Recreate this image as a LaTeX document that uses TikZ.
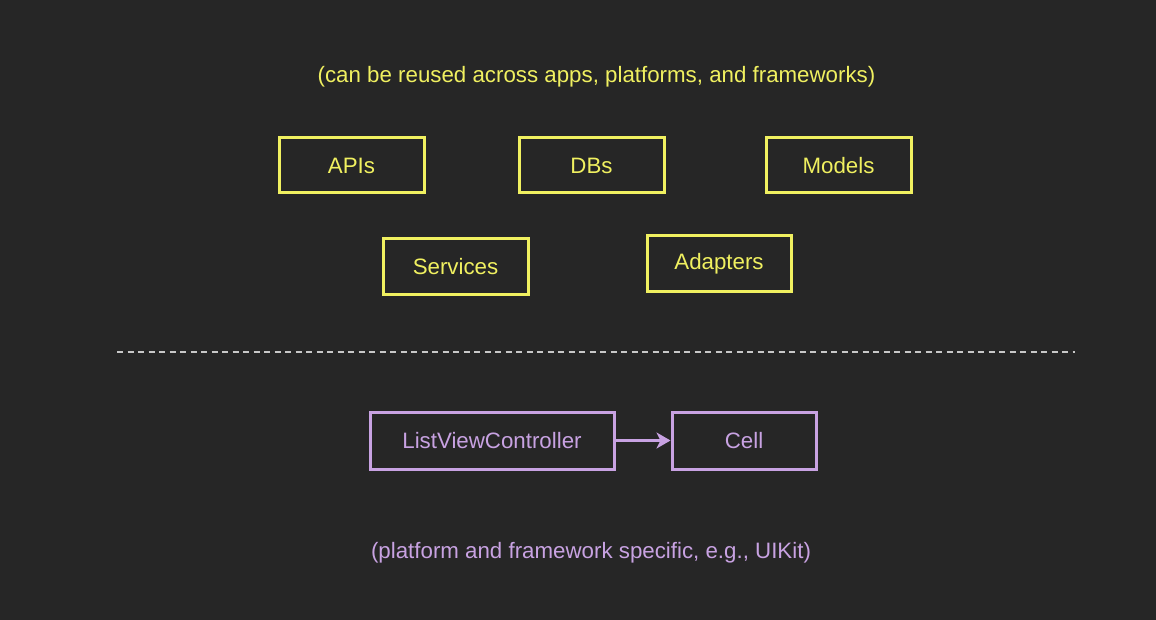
\documentclass[tikz,border=0pt]{standalone}
\usepackage{fontspec}
\setmainfont{Liberation Sans}
\usetikzlibrary{arrows.meta}
\definecolor{bg}{HTML}{262626}
\definecolor{yel}{HTML}{F0F060}
\definecolor{pur}{HTML}{C8A2E2}
\definecolor{dashgray}{HTML}{C8C8C8}
\tikzset{
  ybox/.style={draw=yel, line width=3pt, minimum width=145pt, minimum height=55pt, text=yel, font=\fontsize{22.3}{26}\selectfont, inner sep=0pt},
  pbox/.style={draw=pur, line width=3pt, minimum height=57pt, text=pur, font=\fontsize{22.3}{26}\selectfont, inner sep=0pt},
  lbl/.style={font=\fontsize{22.3}{26}\selectfont, inner sep=0pt}
}
\begin{document}
\begin{tikzpicture}[x=1pt,y=-1pt]
\fill[bg] (0,0) rectangle (1156,620);
\useasboundingbox (0,0) rectangle (1156,620);
\node[lbl, text=yel] (top) at (596.5,77) {(can be reused across apps, platforms, and frameworks)};
\node[ybox] (apis) at (351.5,165.5) {APIs};
\node[ybox] (dbs) at (591.5,165.5) {DBs};
\node[ybox] (models) at (838.5,165.5) {Models};
\node[ybox] (services) at (455.5,266.5) {Services};
\node[ybox, minimum width=144pt] (adapters) at (719,263.5) {Adapters};
\coordinate (dl) at (117,352);
\coordinate (dr) at (1075,352);
\draw[dashgray, line width=1.6pt, dash pattern=on 6pt off 4.5pt] (dl) -- (dr);
\node[pbox, minimum width=244pt] (lvc) at (492,440.5) {ListViewController};
\node[pbox, minimum width=144pt] (cell) at (744,440.5) {Cell};
\draw[pur, line width=2.2pt, -{Stealth[length=14pt,width=16pt,inset=4pt]}] (lvc) -- (cell);
\node[lbl, text=pur] (bot) at (591,553) {(platform and framework specific, e.g., UIKit)};
\end{tikzpicture}
\end{document}
